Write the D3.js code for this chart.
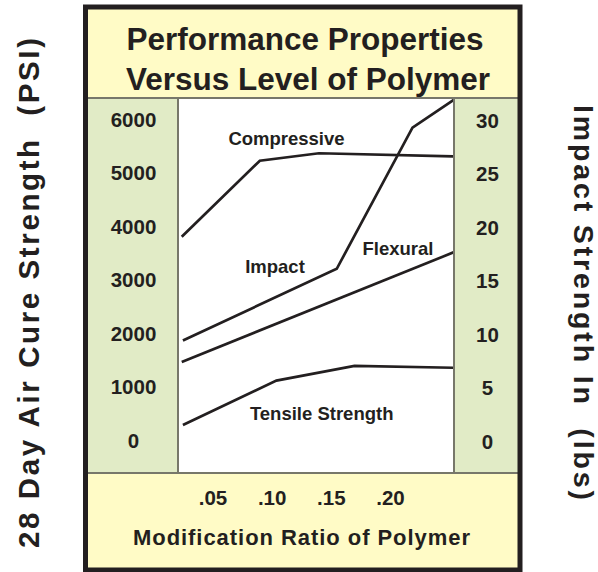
<!DOCTYPE html>
<html>
<head>
<meta charset="utf-8">
<script src="https://cdn.jsdelivr.net/npm/d3@7/dist/d3.min.js"></script>
<style>
  html, body { margin: 0; padding: 0; background: #ffffff; }
  svg { display: block; }
  text { font-family: "Liberation Sans", Arial, Helvetica, sans-serif; font-weight: bold; fill: #231f20; }
</style>
</head>
<body>
<svg id="chart" width="598" height="572"></svg>
<script>
// ---- Data ----
const titleLines = ["Performance Properties", "Versus Level of Polymer"];
const xTickValues = [0.05, 0.10, 0.15, 0.20];
const xTickLabels = [".05", ".10", ".15", ".20"];
const psiTicks = [0, 1000, 2000, 3000, 4000, 5000, 6000];
const lbsTicks = [0, 5, 10, 15, 20, 25, 30];

const compressiveX = [0.024, 0.09, 0.14, 0.254];
const compressivePsi = [3800, 5220, 5360, 5300];

const flexuralX = [0.024, 0.254];
const flexuralPsi = [1460, 3510];

const tensileX = [0.025, 0.104, 0.17, 0.254];
const tensilePsi = [280, 1110, 1385, 1350];

const impactX = [0.025, 0.155, 0.219, 0.254];
const impactLbs = [9.3, 16.0, 29.2, 31.8];

// ---- Layout ----
const svg = d3.select("#chart");
const frame = { x0: 85.5, y0: 7, x1: 520, y1: 570 };
const plot = { x0: 178, y0: 98, x1: 454, y1: 473 };
const yellow = "#fffbc6";
const green = "#e1ebc6";
const grayLine = "#77776a";
const ink = "#231f20";

// scales
const x = d3.scaleLinear().domain([0.05, 0.20]).range([212.5, 390]);
const yPsi = d3.scaleLinear().domain([0, 6000]).range([440, 119]);
const yLbs = d3.scaleLinear().domain([0, 30]).range([440, 119]);

// backgrounds
svg.append("rect").attr("x", frame.x0).attr("y", frame.y0)
  .attr("width", frame.x1 - frame.x0).attr("height", frame.y1 - frame.y0)
  .attr("fill", yellow);
svg.append("rect").attr("x", frame.x0).attr("y", plot.y0)
  .attr("width", plot.x0 - frame.x0).attr("height", plot.y1 - plot.y0)
  .attr("fill", green);
svg.append("rect").attr("x", plot.x1).attr("y", plot.y0)
  .attr("width", frame.x1 - plot.x1).attr("height", plot.y1 - plot.y0)
  .attr("fill", green);
svg.append("rect").attr("x", plot.x0).attr("y", plot.y0)
  .attr("width", plot.x1 - plot.x0).attr("height", plot.y1 - plot.y0)
  .attr("fill", "#ffffff");

// gray separators
const sep = svg.append("g").attr("stroke", grayLine).attr("stroke-width", 2).attr("fill", "none");
sep.append("line").attr("x1", frame.x0).attr("x2", frame.x1).attr("y1", plot.y0).attr("y2", plot.y0);
sep.append("line").attr("x1", frame.x0).attr("x2", frame.x1).attr("y1", plot.y1).attr("y2", plot.y1);
sep.append("line").attr("x1", plot.x0).attr("x2", plot.x0).attr("y1", plot.y0).attr("y2", plot.y1);
sep.append("line").attr("x1", plot.x1).attr("x2", plot.x1).attr("y1", plot.y0).attr("y2", plot.y1);

// series lines
svg.append("clipPath").attr("id", "plotclip").append("rect")
  .attr("x", plot.x0 + 1).attr("y", plot.y0 + 1)
  .attr("width", plot.x1 - plot.x0 - 2).attr("height", plot.y1 - plot.y0 - 2);

const series = [
  { xs: compressiveX, ys: compressivePsi, y: yPsi },
  { xs: flexuralX, ys: flexuralPsi, y: yPsi },
  { xs: tensileX, ys: tensilePsi, y: yPsi },
  { xs: impactX, ys: impactLbs, y: yLbs }
];
const lines = svg.append("g").attr("clip-path", "url(#plotclip)");
series.forEach(s => {
  const pts = s.xs.map((v, i) => [v, s.ys[i]]);
  const gen = d3.line().x(d => x(d[0])).y(d => s.y(d[1]));
  lines.append("path").attr("d", gen(pts))
    .attr("fill", "none").attr("stroke", ink)
    .attr("stroke-width", 2.7).attr("stroke-linejoin", "miter");
});

// series labels
const labels = [
  { t: "Compressive", x: 286.5, y: 145 },
  { t: "Impact", x: 275, y: 273 },
  { t: "Flexural", x: 398, y: 255 },
  { t: "Tensile Strength", x: 321.7, y: 420 }
];
svg.append("g").selectAll("text").data(labels).join("text")
  .attr("x", d => d.x).attr("y", d => d.y)
  .attr("text-anchor", "middle").style("font-size", "18.5px")
  .text(d => d.t);

// axes
const leftAxis = d3.axisLeft(yPsi).tickValues(psiTicks).tickSize(0).tickPadding(0)
  .tickFormat(d3.format("d"));
const gl = svg.append("g").attr("transform", "translate(133.5,0.5)").call(leftAxis);
gl.select(".domain").remove();
gl.selectAll("text").attr("text-anchor", "middle").attr("x", 0)
  .style("font-size", "20.5px").attr("fill", ink);

const rightAxis = d3.axisRight(yLbs).tickValues(lbsTicks).tickSize(0).tickPadding(0)
  .tickFormat(d3.format("d"));
const gr = svg.append("g").attr("transform", "translate(487.5,1.5)").call(rightAxis);
gr.select(".domain").remove();
gr.selectAll("text").attr("text-anchor", "middle").attr("x", 0)
  .style("font-size", "20.5px").attr("fill", ink);

const bottomAxis = d3.axisBottom(x).tickValues(xTickValues).tickSize(0).tickPadding(0)
  .tickFormat((d, i) => xTickLabels[i]);
const gb = svg.append("g").attr("transform", "translate(0,490.5)").call(bottomAxis);
gb.select(".domain").remove();
gb.selectAll("text").style("font-size", "20.5px").attr("fill", ink);
[gl, gr, gb].forEach(g => g.attr("font-family", null).attr("font-size", null));

// titles
svg.append("text").attr("x", 305).attr("y", 50).attr("text-anchor", "middle")
  .style("font-size", "31.5px").text(titleLines[0]);
svg.append("text").attr("x", 308).attr("y", 90).attr("text-anchor", "middle")
  .style("font-size", "31.5px").text(titleLines[1]);

svg.append("text").attr("x", 301.5).attr("y", 545).attr("text-anchor", "middle")
  .attr("textLength", 337).attr("lengthAdjust", "spacing")
  .style("font-size", "22px").text("Modification Ratio of Polymer");

svg.append("text").attr("transform", "translate(39,293) rotate(-90)")
  .attr("text-anchor", "middle").attr("textLength", 510).attr("lengthAdjust", "spacing")
  .style("font-size", "29.5px").text("28 Day Air Cure Strength\u00a0\u00a0(PSI)");

svg.append("text").attr("transform", "translate(573.5,302.5) rotate(90)")
  .attr("text-anchor", "middle").attr("textLength", 395).attr("lengthAdjust", "spacing")
  .style("font-size", "28.5px").text("Impact Strength In\u00a0\u00a0(lbs)");

// outer frame
svg.append("rect").attr("x", frame.x0).attr("y", frame.y0)
  .attr("width", frame.x1 - frame.x0).attr("height", frame.y1 - frame.y0)
  .attr("fill", "none").attr("stroke", ink).attr("stroke-width", 5);
</script>
</body>
</html>
